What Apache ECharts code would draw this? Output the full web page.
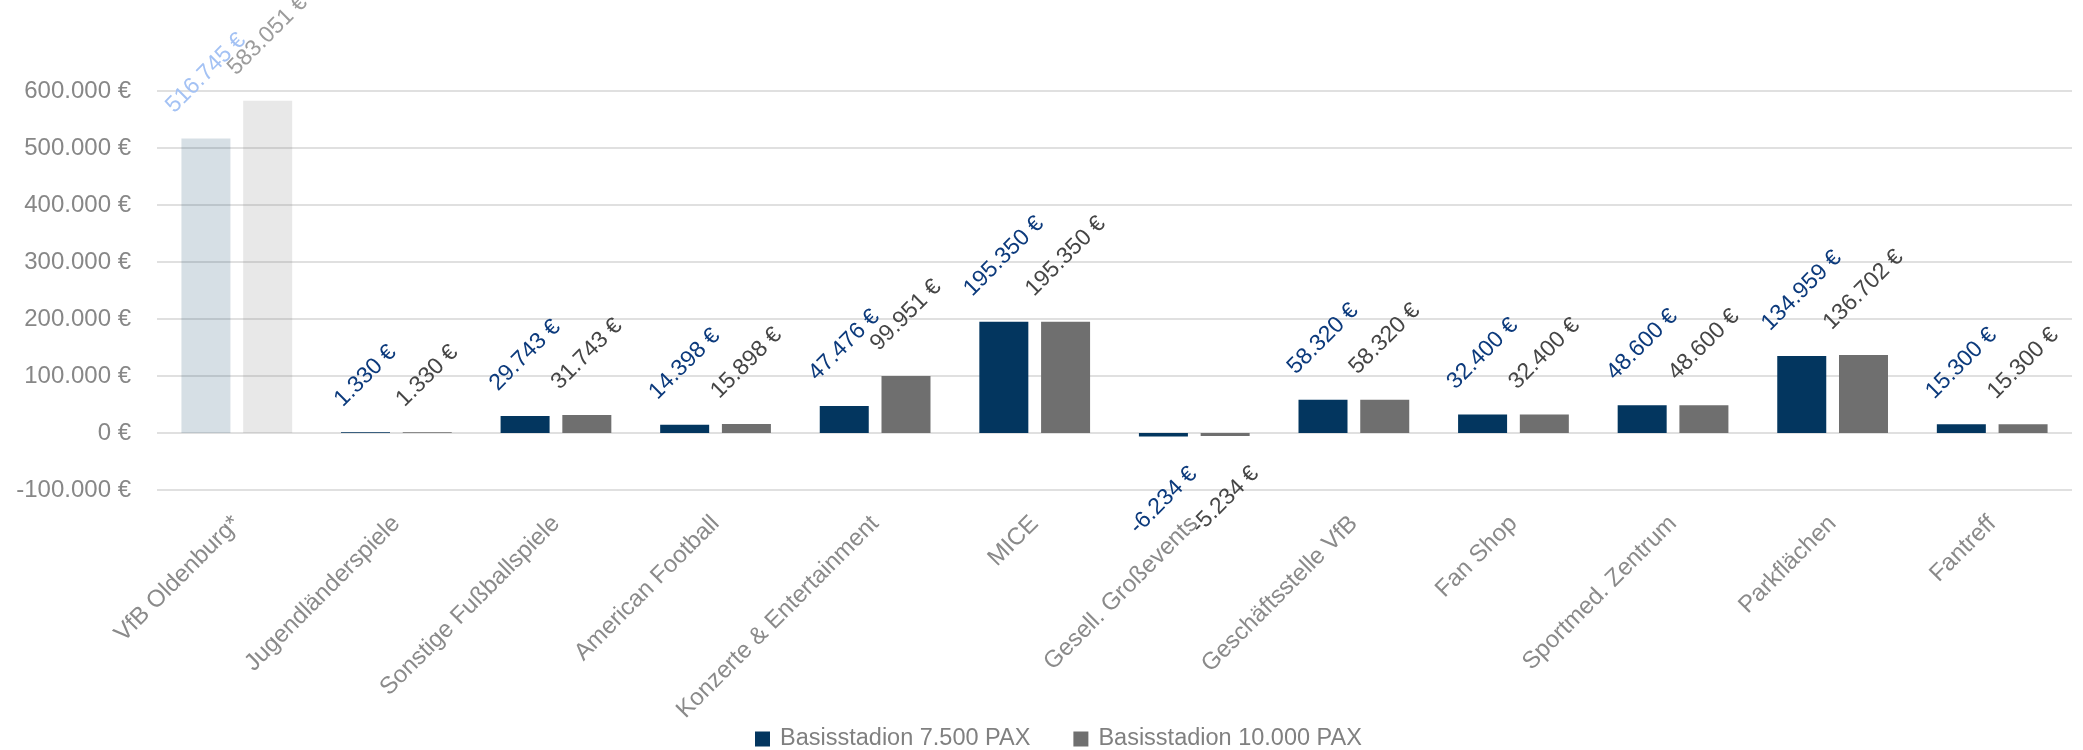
<!DOCTYPE html>
<html>
<head>
<meta charset="utf-8">
<script src="https://cdn.jsdelivr.net/npm/echarts@6/dist/echarts.min.js"></script>
<style>
  html, body { margin: 0; padding: 0; background: #fff; }
  #chart { width: 2083px; height: 750px; }
</style>
</head>
<body>
<div id="chart"></div>
<script>
// categories
const categories = [
  'VfB Oldenburg*', 'Jugendländerspiele', 'Sonstige Fußballspiele', 'American Football',
  'Konzerte & Entertainment', 'MICE', 'Gesell. Großevents', 'Geschäftsstelle VfB',
  'Fan Shop', 'Sportmed. Zentrum', 'Parkflächen', 'Fantreff'
];
const seriesNames = ['Basisstadion 7.500 PAX', 'Basisstadion 10.000 PAX'];
// prettier-ignore
const pax7500 = [516745, 1330, 29743, 14398, 47476, 195350, -6234, 58320, 32400, 48600, 134959, 15300];
// prettier-ignore
const pax10000 = [583051, 1330, 31743, 15898, 99951, 195350, -5234, 58320, 32400, 48600, 136702, 15300];
const values = [pax7500, pax10000];

const yMin = -100000;
const yMax = 600000;
const yStep = 100000;

const FONT = 'Liberation Sans';
const labelSize = 23;

function euro(v) {
  const s = String(Math.abs(v)).replace(/\B(?=(\d{3})+(?!\d))/g, '.');
  return (v < 0 ? '-' : '') + s + ' €';
}

const measureCtx = document.createElement('canvas').getContext('2d');
function textWidth(str, size) {
  measureCtx.font = size + 'px "' + FONT + '"';
  return measureCtx.measureText(str).width;
}

const barColors = ['#03365f', '#6f6f6f'];
const fadedBarColors = ['rgba(3,54,95,0.16)', 'rgba(111,111,111,0.16)'];
const labelColors = ['#0c3a7c', '#454545'];
// first category is drawn faded
const fadedLabelColors = ['#a4c2f4', '#9c9c9c'];

function buildData(si) {
  return values[si].map((v, i) => {
    if (i === 0) {
      return {
        value: v,
        itemStyle: { color: fadedBarColors[si] },
        label: { color: fadedLabelColors[si] },
      };
    }
    return v;
  });
}

const chart = echarts.init(document.getElementById('chart'));

const option = {
  animation: false,
  textStyle: { fontFamily: FONT },
  grid: {
    left: 157,
    right: 11,
    top: 91,
    bottom: 260,
  },
  legend: {
    data: seriesNames,
    left: 750,
    top: 722,
    icon: 'rect',
    itemWidth: 15,
    itemHeight: 15,
    itemGap: 43,
    textStyle: {
      fontSize: 23.5,
      color: '#808080',
      padding: [0, 0, 0, 5],
    },
  },
  xAxis: {
    type: 'category',
    data: categories,
    axisLine: { show: false, onZero: false },
    axisTick: { show: false },
    axisLabel: {
      interval: 0,
      rotate: 45,
      margin: 30,
      fontSize: 24,
      color: '#8a8a8a',
    },
  },
  yAxis: {
    type: 'value',
    min: yMin,
    max: yMax,
    interval: yStep,
    axisLine: { show: false },
    axisTick: { show: false },
    axisLabel: {
      margin: 26,
      fontSize: 24,
      color: '#878787',
      formatter: (v) => euro(v),
    },
    splitLine: {
      lineStyle: { color: '#e0e0e0', width: 2 },
    },
  },
  series: seriesNames.map((name, si) => ({
    name,
    type: 'bar',
    barWidth: 49,
    barGap: '26%',
    itemStyle: { color: barColors[si] },
    label: {
      show: true,
      position: 'top',
      rotate: 45,
      fontSize: labelSize,
      color: labelColors[si],
      formatter: (p) => euro(p.value),
    },
    // rotated label box sits centred over (or under) the bar
    labelLayout(p) {
      const v = values[p.seriesIndex][p.dataIndex];
      const L = textWidth(euro(v), labelSize);
      const h = labelSize;
      const k = Math.SQRT1_2;
      const r = p.rect;
      const cx = r.x + r.width / 2;
      const top = Math.min(r.y, r.y + r.height);
      const bottom = Math.max(r.y, r.y + r.height);
      const x = cx - (k * L) / 2;
      const y = v >= 0 ? top - 21 - (k * h) / 2 : bottom + 26 + k * L + (k * h) / 2;
      return { x, y, align: 'left', verticalAlign: 'middle', rotate: 45 };
    },
    data: buildData(si),
  })),
};

chart.setOption(option);
</script>
</body>
</html>
